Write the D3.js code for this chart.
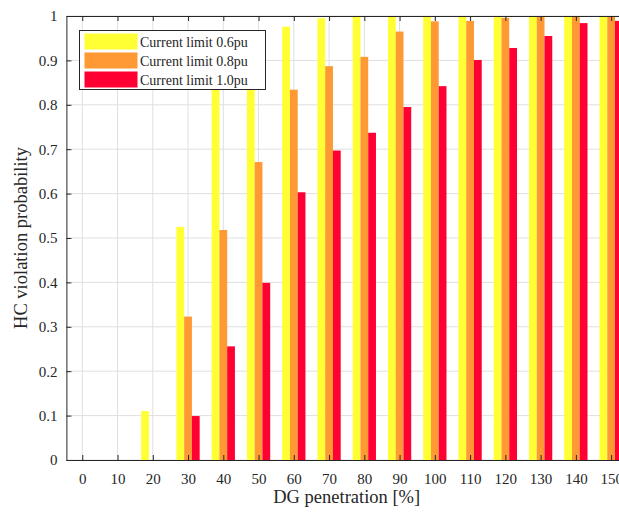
<!DOCTYPE html>
<html>
<head>
<meta charset="utf-8">
<script src="https://cdn.jsdelivr.net/npm/d3@7"></script>
<style>
  body { margin: 0; background: #fff; }
  svg text { font-family: "Liberation Serif", "DejaVu Serif", serif; fill: #262626; }
</style>
</head>
<body>
<div id="chart"></div>
<script>
const penetration = [0, 10, 20, 30, 40, 50, 60, 70, 80, 90, 100, 110, 120, 130, 140, 150];
const seriesNames = ["Current limit 0.6pu", "Current limit 0.8pu", "Current limit 1.0pu"];
const limit06 = [0, 0, 0.11, 0.525, 0.87, 0.94, 0.976, 0.995, 1, 1, 1, 1, 1, 1, 1, 1];
const limit08 = [0, 0, 0, 0.323, 0.518, 0.671, 0.834, 0.887, 0.908, 0.965, 0.988, 0.989, 0.996, 1, 1, 1];
const limit10 = [0, 0, 0, 0.099, 0.256, 0.399, 0.603, 0.697, 0.737, 0.795, 0.842, 0.901, 0.928, 0.955, 0.984, 0.989];
const yTicks = [0, 0.1, 0.2, 0.3, 0.4, 0.5, 0.6, 0.7, 0.8, 0.9, 1];
const colors = ["#ffff33", "#ff9933", "#ff0033"];

const width = 619, height = 514;
const plotLeft = 66.4, plotTop = 16, plotBottom = 460, plotRight = 627;

const svg = d3.select("#chart").append("svg")
    .attr("width", width).attr("height", height);

const x = d3.scaleLinear().domain([-4.5, 154.5]).range([plotLeft, plotRight]);
const y = d3.scaleLinear().domain([0, 1]).range([plotBottom, plotTop]);
const barW = 2.2; // in x units

// grid
svg.append("g").selectAll("line").data(penetration).join("line")
    .attr("x1", d => x(d)).attr("x2", d => x(d))
    .attr("y1", plotTop).attr("y2", plotBottom)
    .attr("stroke", "#dfdfdf").attr("stroke-width", 1);
svg.append("g").selectAll("line").data(yTicks).join("line")
    .attr("x1", plotLeft).attr("x2", plotRight)
    .attr("y1", d => y(d)).attr("y2", d => y(d))
    .attr("stroke", "#dfdfdf").attr("stroke-width", 1);

// bars
const series = [limit06, limit08, limit10];
series.forEach((vals, i) => {
    svg.append("g").selectAll("rect").data(vals).join("rect")
        .attr("x", (d, j) => x(penetration[j] + (i - 1) * barW - barW / 2))
        .attr("width", x(barW) - x(0))
        .attr("y", d => y(d))
        .attr("height", d => y(0) - y(d))
        .attr("fill", colors[i]);
});

// axes
const xAxis = svg.append("g")
    .attr("transform", `translate(0,${plotBottom})`)
    .call(d3.axisBottom(x).tickValues(penetration).tickSizeInner(-5).tickSizeOuter(0).tickPadding(13));
const xTop = svg.append("g")
    .attr("transform", `translate(0,${plotTop})`)
    .call(d3.axisTop(x).tickValues(penetration).tickSizeInner(-5).tickSizeOuter(0).tickFormat(""));
const yAxis = svg.append("g")
    .attr("transform", `translate(${plotLeft},0)`)
    .call(d3.axisLeft(y).tickValues(yTicks).tickSizeInner(-5).tickSizeOuter(0).tickPadding(9)
        .tickFormat(d => d === 0 || d === 1 ? d3.format("d")(d) : d3.format(".1f")(d)));

[xAxis, xTop, yAxis].forEach(g => {
    g.select(".domain").attr("stroke", "#262626").attr("stroke-width", 1);
    g.selectAll(".tick line").attr("stroke", "#262626");
    g.selectAll("text").style("font-size", "15px").attr("fill", "#262626");
});

// axis titles
svg.append("text")
    .attr("x", x(75)).attr("y", 503)
    .attr("text-anchor", "middle")
    .style("font-size", "18.5px")
    .text("DG penetration [%]");
svg.append("text")
    .attr("transform", `translate(27,${y(0.5)}) rotate(-90)`)
    .attr("text-anchor", "middle")
    .style("font-size", "18.5px")
    .text("HC violation probability");

// legend
const legend = svg.append("g").attr("transform", "translate(79.5,30.5)");
legend.append("rect")
    .attr("width", 186).attr("height", 59)
    .attr("fill", "#fff").attr("stroke", "#262626").attr("stroke-width", 1);
seriesNames.forEach((name, i) => {
    legend.append("rect")
        .attr("x", 5).attr("y", 3 + i * 19)
        .attr("width", 53).attr("height", 16)
        .attr("fill", colors[i]);
    legend.append("text")
        .attr("x", 60.5).attr("y", 16 + i * 19)
        .style("font-size", "14px")
        .text(name);
});
</script>
</body>
</html>
